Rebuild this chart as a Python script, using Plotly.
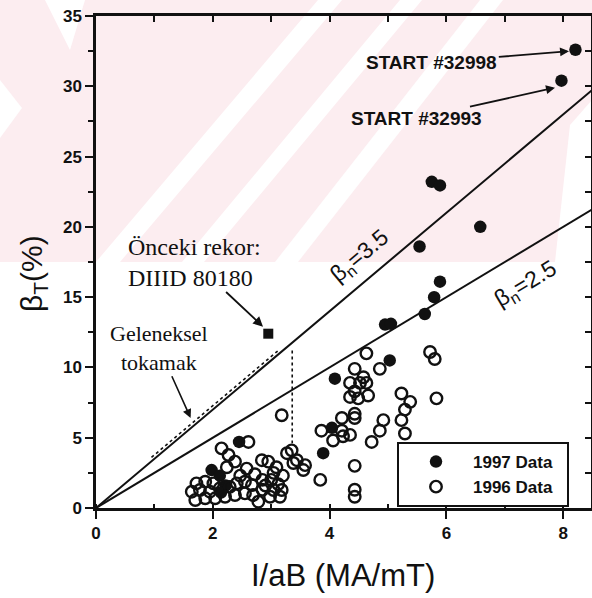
import plotly.graph_objects as go

# ---------------- data ----------------
x_1997 = [8.21, 7.97, 5.75, 5.89, 6.58, 5.54, 5.89, 5.79, 5.63, 4.95, 5.05, 5.03,
          4.09, 4.04, 3.89, 2.45, 1.98, 2.12, 2.22, 2.14]
y_1997 = [32.6, 30.4, 23.2, 22.95, 20.0, 18.6, 16.1, 15.0, 13.8, 13.05, 13.1, 10.5,
          9.2, 5.7, 3.9, 4.7, 2.7, 2.3, 1.6, 1.1]

x_1996 = [2.15, 2.61, 2.27, 2.38, 2.24, 2.58,
          1.72, 1.87, 2.01,
          1.64, 1.78, 1.95, 2.12, 2.29, 2.41, 2.55, 2.67,
          1.70, 1.87, 2.04, 2.21, 2.38, 2.55, 2.69,
          2.47, 2.72, 2.84, 2.95, 3.09, 3.04, 2.85, 3.00, 3.20,
          2.78, 2.98, 3.15, 3.04, 3.18, 2.85, 2.90, 3.12,
          3.27, 3.35, 3.38, 3.58, 3.55, 3.18, 3.44,
          3.86, 4.21, 4.35, 4.06, 4.23, 4.21, 4.43, 4.43,
          4.43, 3.84, 4.43, 4.43,
          4.72, 4.86, 4.92,
          5.23, 5.38, 5.29, 5.23, 5.29,
          4.35, 4.52, 4.63, 4.43, 4.66, 4.35, 4.49, 4.43, 4.58,
          4.63, 4.86,
          5.72, 5.80, 5.83]
y_1996 = [4.24, 4.70, 3.77, 3.30, 2.90, 2.80,
          1.75, 1.87, 1.75,
          1.16, 1.28, 1.16, 1.40, 1.50, 1.75, 1.87, 1.63,
          0.57, 0.69, 0.69, 0.80, 0.92, 1.04, 0.92,
          2.30, 2.40, 3.40, 3.30, 2.90, 2.50, 2.00, 2.00, 2.30,
          0.45, 0.80, 0.80, 1.28, 1.28, 1.30, 1.60, 1.70,
          3.90, 4.10, 3.20, 3.05, 2.70, 6.60, 3.40,
          5.50, 5.50, 5.20, 4.80, 5.10, 6.40, 6.70, 6.40,
          3.00, 2.00, 1.30, 0.80,
          4.70, 5.50, 6.25,
          8.15, 7.55, 7.00, 6.25, 5.30,
          8.90, 8.90, 8.90, 8.30, 8.00, 7.90, 7.80, 9.90, 9.30,
          11.0, 9.90,
          11.1, 10.6, 7.80]

diiid_x = [2.95]
diiid_y = [12.4]

beta_n = [3.5, 2.5]
line_x = [0.0, 8.6]

conv_x = [0.95, 3.12, None, 3.36, 3.36]
conv_y = [3.6, 11.2, None, 11.2, 4.6]

x_ticks = [0, 2, 4, 6, 8]
y_ticks = [0, 5, 10, 15, 20, 25, 30, 35]

# ---------------- layout constants ----------------
W, H = 592, 598
L, R, T, B = 96, 1, 16, 90
PW, PH = W - L - R, H - T - B
XMAX = PW / 58.4


def px(xp):
    return (xp - L) / PW


def py(yp):
    return (H - B - yp) / PH


BLACK = "#111111"
PINK = "#fcedf0"
NB = "\u00a0"

fig = go.Figure()

for b in beta_n:
    fig.add_trace(go.Scatter(x=line_x, y=[b * v for v in line_x], mode="lines",
                             line=dict(color=BLACK, width=2), showlegend=False,
                             hoverinfo="skip", cliponaxis=True))

fig.add_trace(go.Scatter(x=conv_x, y=conv_y, mode="lines",
                         line=dict(color=BLACK, width=1.6, dash="dot"),
                         showlegend=False, hoverinfo="skip"))

fig.add_trace(go.Scatter(x=x_1997, y=y_1997, mode="markers", name="1997 Data" + NB * 2,
                         legendgroup="a",
                         marker=dict(symbol="circle", size=12.5, color=BLACK)))
fig.add_trace(go.Scatter(x=x_1996, y=y_1996, mode="markers", name="1996 Data" + NB * 2,
                         legendgroup="b",
                         marker=dict(symbol="circle-open", size=11.5, color=BLACK,
                                     line=dict(width=2.4, color=BLACK))))
fig.add_trace(go.Scatter(x=diiid_x, y=diiid_y, mode="markers", showlegend=False,
                         marker=dict(symbol="square", size=10, color=BLACK)))

# ---------------- watermark-like background ----------------
shapes = []
shapes.append(dict(type="rect", xref="paper", yref="paper",
                   x0=px(0), x1=px(W), y0=py(262), y1=py(0),
                   fillcolor=PINK, line=dict(width=0), layer="below"))


def poly(pts):
    d = "M " + " L ".join(f"{px(a):.4f},{py(b):.4f}" for a, b in pts) + " Z"
    return dict(type="path", xref="paper", yref="paper", path=d,
                fillcolor="white", line=dict(width=0), layer="below")


shapes.append(poly([(318, 0), (342, 0), (120, 262), (96, 262)]))
shapes.append(poly([(400, 0), (422, 0), (204, 262), (182, 262)]))
shapes.append(poly([(480, 0), (503, 0), (298, 262), (275, 262)]))
shapes.append(poly([(45, 0), (85, 0), (70, 50)]))
shapes.append(poly([(0, 80), (22, 108), (0, 138)]))
shapes.append(poly([(592, 100), (592, 262), (555, 262), (570, 125)]))

fig.update_layout(shapes=shapes)

# ---------------- annotations ----------------
serif = "Liberation Serif, Times New Roman, serif"
sans = "Liberation Sans, Arial, sans-serif"
ann = []
ann.append(dict(x=2.86, y=12.9, ax=1.68, ay=17.5, xref="x", yref="y", axref="x", ayref="y",
                text="Önceki rekor:<br>DIIID 80180", align="left",
                showarrow=True, arrowhead=2, arrowsize=1.1, arrowwidth=1.8,
                arrowcolor=BLACK, standoff=0,
                font=dict(family=serif, size=24, color=BLACK)))
ann.append(dict(x=1.62, y=6.4, ax=1.08, ay=11.4, xref="x", yref="y", axref="x", ayref="y",
                text="Geleneksel<br>tokamak", align="center",
                showarrow=True, arrowhead=2, arrowsize=1.1, arrowwidth=1.6,
                arrowcolor=BLACK,
                font=dict(family=serif, size=22, color=BLACK)))
ann.append(dict(x=8.1, y=32.5, ax=5.75, ay=31.7, xref="x", yref="y", axref="x", ayref="y",
                text="<b>START #32998</b>",
                showarrow=True, arrowhead=2, arrowsize=1.0, arrowwidth=1.8,
                arrowcolor=BLACK,
                font=dict(family=sans, size=19, color=BLACK)))
ann.append(dict(x=7.86, y=29.9, ax=5.48, ay=27.7, xref="x", yref="y", axref="x", ayref="y",
                text="<b>START #32993</b>",
                showarrow=True, arrowhead=2, arrowsize=1.0, arrowwidth=1.8,
                arrowcolor=BLACK,
                font=dict(family=sans, size=19, color=BLACK)))
ann.append(dict(x=4.52, y=17.9, xref="x", yref="y", text="β<sub>n</sub>=3.5",
                showarrow=False, textangle=-40,
                font=dict(family=sans, size=23, color=BLACK)))
ann.append(dict(x=7.36, y=15.9, xref="x", yref="y", text="β<sub>n</sub>=2.5",
                showarrow=False, textangle=-31,
                font=dict(family=sans, size=23, color=BLACK)))
# axis titles
ann.append(dict(x=px(33), y=py(274), xref="paper", yref="paper", text="β<sub>T</sub>(%)",
                showarrow=False, textangle=-90, xanchor="center", yanchor="middle",
                font=dict(family=sans, size=30, color=BLACK)))
ann.append(dict(x=px(343), y=py(575), xref="paper", yref="paper", text="I/aB (MA/mT)",
                showarrow=False, xanchor="center", yanchor="middle",
                font=dict(family=sans, size=31, color=BLACK)))
fig.update_layout(annotations=ann)

tickfont = dict(family=sans, size=17, color=BLACK, weight="bold")

fig.update_layout(
    width=W, height=H,
    margin=dict(l=L, r=R, t=T, b=B, pad=0, autoexpand=False),
    paper_bgcolor="white", plot_bgcolor="rgba(0,0,0,0)",
    showlegend=True,
    legend=dict(x=px(397), y=py(442), xanchor="left", yanchor="top",
                bgcolor="white", bordercolor=BLACK, borderwidth=2,
                font=dict(family=sans, size=17, color=BLACK, weight="bold"),
                traceorder="grouped", tracegroupgap=0, itemwidth=64),
    xaxis=dict(range=[0, XMAX], tickvals=x_ticks, ticks="outside", ticklen=8, tickwidth=2,
               tickcolor=BLACK, showline=True, linewidth=2.5, linecolor=BLACK,
               showgrid=False, zeroline=False, tickfont=tickfont, automargin=False,
               minor=dict(dtick=1, tick0=0, ticks="inside", ticklen=4, tickwidth=1.5,
                          tickcolor=BLACK, showgrid=False)),
    yaxis=dict(range=[0, 35], tickvals=y_ticks, ticks="outside", ticklen=8, tickwidth=2,
               tickcolor=BLACK, showline=True, linewidth=2.5, linecolor=BLACK,
               showgrid=False, zeroline=False, tickfont=tickfont, automargin=False,
               minor=dict(dtick=2.5, tick0=0, ticks="outside", ticklen=5, tickwidth=1.5,
                          tickcolor=BLACK, showgrid=False)),
    xaxis2=dict(range=[0, XMAX], overlaying="x", side="top", tickvals=list(range(0, 9)),
                ticks="inside", ticklen=6, tickwidth=1.5, tickcolor=BLACK, automargin=False,
                showticklabels=False, showline=True, linewidth=2.5, linecolor=BLACK,
                showgrid=False, zeroline=False),
    yaxis2=dict(range=[0, 35], overlaying="y", side="right", dtick=2.5, tick0=0,
                ticks="inside", ticklen=6, tickwidth=1.5, tickcolor=BLACK, automargin=False,
                showticklabels=False, showline=True, linewidth=2.5, linecolor=BLACK,
                showgrid=False, zeroline=False),
)

fig.add_trace(go.Scatter(x=[None], y=[None], xaxis="x2", yaxis="y2", showlegend=False,
                         hoverinfo="skip"))

fig.write_html("out.html", config={"displayModeBar": False},
               post_script="document.body.style.margin='0';"
                           "document.body.style.overflow='hidden';")
